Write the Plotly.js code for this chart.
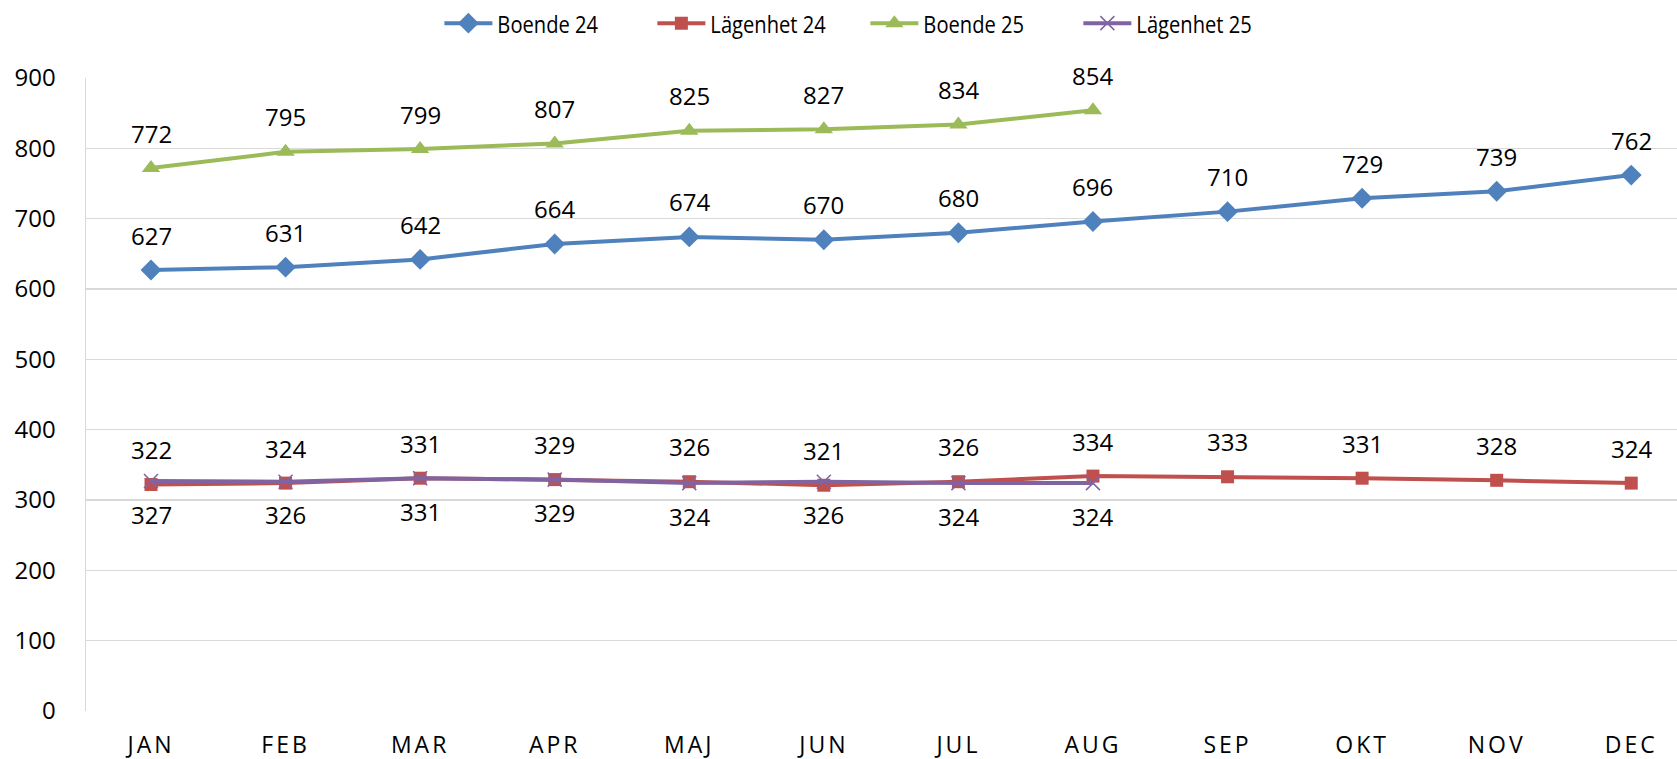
<!DOCTYPE html>
<html>
<head>
<meta charset="utf-8">
<script src="https://cdn.plot.ly/plotly-3.0.1.min.js"></script>
<style>
html, body { margin: 0; padding: 0; background: #fff; }
#chart { width: 1677px; height: 759px; }
.xtick text { letter-spacing: 3px; }
.legendtext { transform-box: fill-box; transform-origin: left center; transform: scaleX(0.84); }
</style>
</head>
<body>
<div id="chart"></div>
<script>
const months = ["JAN","FEB","MAR","APR","MAJ","JUN","JUL","AUG","SEP","OKT","NOV","DEC"];
const boende24 = [627,631,642,664,674,670,680,696,710,729,739,762];
const lagenhet24 = [322,324,331,329,326,321,326,334,333,331,328,324];
const boende25 = [772,795,799,807,825,827,834,854];
const lagenhet25 = [327,326,331,329,324,326,324,324];
const yTicks = [0,100,200,300,400,500,600,700,800,900];

const FONT = "'Open Sans', Lato, sans-serif";
const series = [
  {name: "Boende 24", y: boende24, color: "#4F81BD", symbol: "diamond", size: 16, above: true},
  {name: "Lägenhet 24", y: lagenhet24, color: "#C0504D", symbol: "square", size: 13, above: true},
  {name: "Boende 25", y: boende25, color: "#9BBB59", symbol: "triangle-up", size: 16, above: true},
  {name: "Lägenhet 25", y: lagenhet25, color: "#8064A2", symbol: "x-thin", size: 14, above: false}
];

const traces = series.map(s => ({
  type: "scatter",
  mode: "lines+markers",
  name: s.name,
  x: months.slice(0, s.y.length),
  y: s.y,
  line: {color: s.color, width: 4},
  marker: s.symbol === "x-thin"
    ? {symbol: s.symbol, size: s.size, color: s.color, line: {color: s.color, width: 1.5}}
    : {symbol: s.symbol, size: s.size, color: s.color},
  hoverinfo: "x+y"
}));

const annotations = [];
series.forEach(s => {
  s.y.forEach((v, i) => {
    annotations.push({
      x: months[i], y: v, xref: "x", yref: "y",
      text: String(v), showarrow: false,
      yanchor: "middle", xanchor: "center",
      yshift: s.above ? 35 : -33,
      font: {family: FONT, size: 24, color: "#000"}
    });
  });
});

const layout = {
  width: 1677, height: 759,
  margin: {l: 86, r: 0, t: 78, b: 48},
  paper_bgcolor: "#fff", plot_bgcolor: "#fff",
  font: {family: FONT, size: 24, color: "#000"},
  showlegend: true,
  legend: {
    orientation: "h", xref: "container", x: 0.262, xanchor: "left",
    yref: "container", y: 0.969, yanchor: "middle",
    font: {family: FONT, size: 24, color: "#000"},
    itemwidth: 48, entrywidth: 150
  },
  xaxis: {
    type: "category", categoryorder: "array", categoryarray: months,
    range: [-0.483, 11.34],
    showgrid: false, zeroline: false, showline: false,
    ticks: "", ticklabelstandoff: 18,
    tickfont: {family: FONT, size: 23, color: "#000"},
    fixedrange: true
  },
  yaxis: {
    range: [0, 900], tickvals: yTicks, ticktext: yTicks.map(String),
    showgrid: true, gridcolor: "#D9D9D9", gridwidth: 1.5,
    zeroline: false, showline: true, linecolor: "#D9D9D9", linewidth: 1.5,
    ticks: "", ticklabelstandoff: 24,
    tickfont: {family: FONT, size: 24, color: "#000"},
    fixedrange: true
  },
  annotations: annotations
};

Plotly.newPlot("chart", traces, layout, {displayModeBar: false, staticPlot: true});
</script>
</body>
</html>
